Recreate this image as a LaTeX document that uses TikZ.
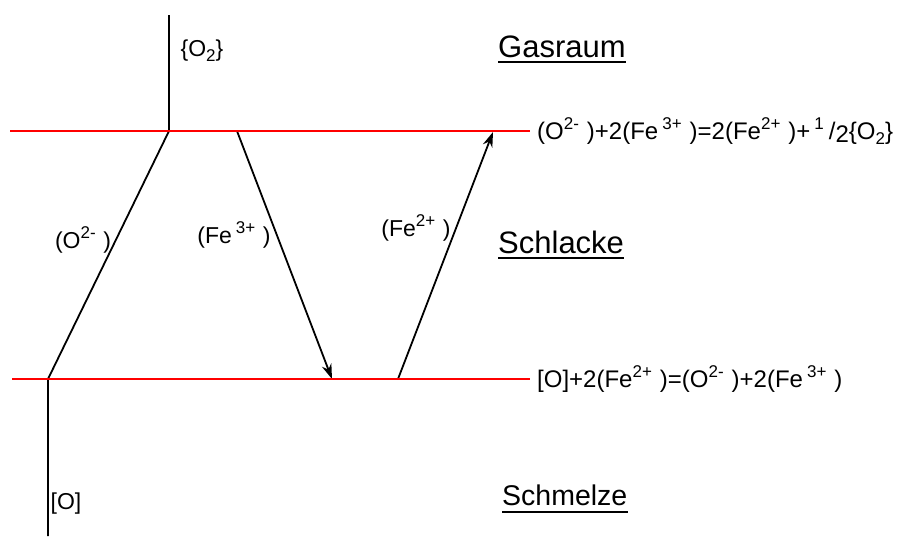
\documentclass[tikz,border=0pt]{standalone}
\usepackage{fontspec}
\setmainfont{Liberation Sans}
\usetikzlibrary{arrows.meta,positioning}

\newcommand{\hoch}[1]{\raisebox{0.42em}{\fontsize{17}{17}\selectfont #1}\,\,}
\newcommand{\tief}[1]{\raisebox{-0.2em}{\fontsize{17}{17}\selectfont #1}}

\begin{document}
\begin{tikzpicture}[
  x=1pt, y=-1pt,
  redline/.style={red, line width=2.6pt},
  blackline/.style={black, line width=1.8pt},
  arr/.style={blackline, -{Stealth[length=15pt,width=10pt]}},
  eqn/.style={inner sep=0pt, font=\fontsize{24}{28}\selectfont},
  lbl/.style={inner sep=0pt, font=\fontsize{23}{27}\selectfont},
  region/.style={anchor=base west, inner sep=0pt, font=\fontsize{31}{36}\selectfont},
  uline/.style={black, line width=2pt}
]
\useasboundingbox (0,0) rectangle (907,539);

% Phasengrenzen
\coordinate (topL) at (10,131);
\coordinate (topR) at (530,131);
\coordinate (botL) at (12,379);
\coordinate (botR) at (530,379);
% Transportwege
\coordinate (o2top) at (169,15);
\coordinate (o2foot) at (169,131);
\coordinate (ofoot) at (48,379);
\coordinate (obot) at (48,536);
\coordinate (fe3a) at (237,131);
\coordinate (fe3b) at (332,379);
\coordinate (fe2a) at (398,379);
\coordinate (fe2b) at (493,132);

\draw[blackline] (o2top) -- (o2foot) -- (ofoot) -- (obot);
\draw[arr] (fe3a) -- (fe3b);
\draw[arr] (fe2a) -- (fe2b);
\draw[redline] (topL) -- (topR);
\draw[redline] (botL) -- (botR);

% Reaktionen
\node[eqn, right=7pt of topR] (eqtop) {(O\hoch{2-})+2(Fe\,\hoch{3+})=2(Fe\hoch{2+})+\,\hoch{1}\kern-3pt/\raisebox{-0.12em}{2}\{O\tief{2}\}};
\node[eqn, right=7pt of botR] (eqbot) {[O]+2(Fe\hoch{2+})=(O\hoch{2-})+2(Fe\,\hoch{3+})};

% Teilchen
\node[lbl] (o2) at (202,51) {\{O\tief{2}\}};
\node[lbl] (om) at (66,504) {[O]};
\node[lbl] (oion) at (83,240) {(O\hoch{2-})};
\node[lbl] (fe3) at (234,235) {(Fe\,\hoch{3+})};
\node[lbl] (fe2) at (416,228) {(Fe\hoch{2+})};

% Phasen
\node[region] (gas) at (498,57) {Gasraum};
\node[region] (schlacke) at (498,253) {Schlacke};
\node[region, font=\fontsize{28.5}{34}\selectfont] (schmelze) at (502,505) {Schmelze};
\draw[uline] ([yshift=-5pt]gas.base west) -- ([yshift=-5pt]gas.base east);
\draw[uline] ([yshift=-5pt]schlacke.base west) -- ([yshift=-5pt]schlacke.base east);
\draw[uline] ([yshift=-7pt]schmelze.base west) -- ([yshift=-7pt]schmelze.base east);
\end{tikzpicture}
\end{document}
